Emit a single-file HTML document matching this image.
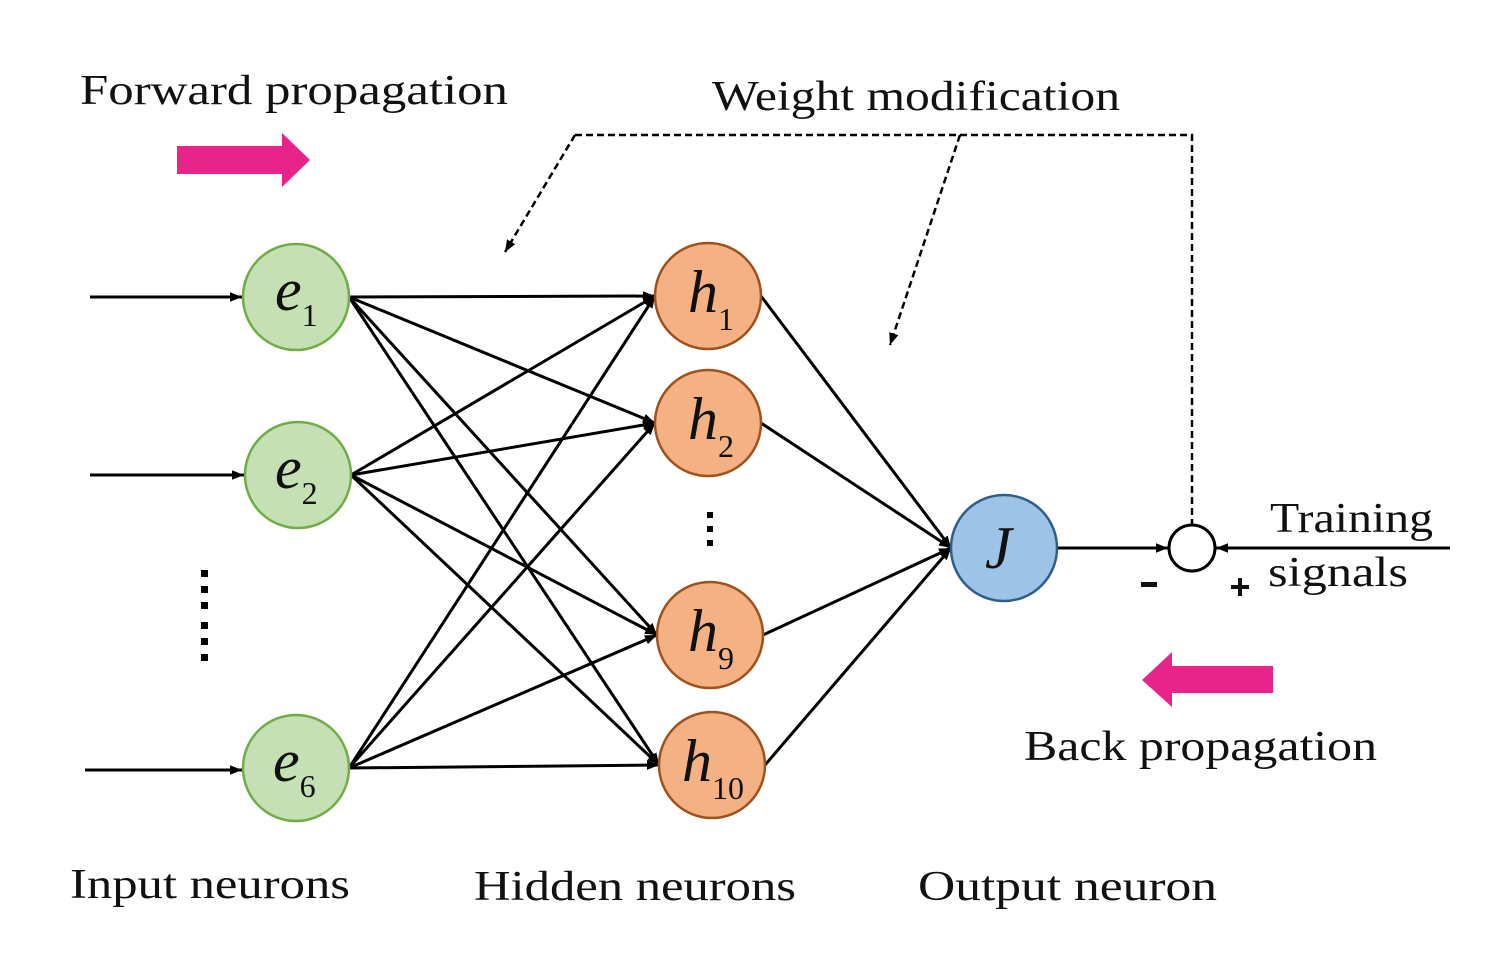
<!DOCTYPE html>
<html><head><meta charset="utf-8"><style>
html,body{margin:0;padding:0;background:#fff;}
svg{display:block;}
text{font-family:"Liberation Serif",serif;fill:#111;}
</style></head><body>
<svg width="1485" height="955" viewBox="0 0 1485 955" xmlns="http://www.w3.org/2000/svg">
<defs>
<marker id="b" viewBox="0 0 10 10" refX="10" refY="5" markerWidth="12" markerHeight="12" orient="auto" markerUnits="userSpaceOnUse"><path d="M0,1 L10,5 L0,9 z" fill="#000"/></marker>
</defs>
<rect width="1485" height="955" fill="#fff"/>
<text x="80" y="104" font-size="42" textLength="428" lengthAdjust="spacingAndGlyphs">Forward propagation</text>
<text x="712" y="110" font-size="42" textLength="408" lengthAdjust="spacingAndGlyphs">Weight modification</text>
<text x="1024" y="760" font-size="42" textLength="353" lengthAdjust="spacingAndGlyphs">Back propagation</text>
<text x="70" y="898" font-size="42" textLength="280" lengthAdjust="spacingAndGlyphs">Input neurons</text>
<text x="474" y="900" font-size="42" textLength="322" lengthAdjust="spacingAndGlyphs">Hidden neurons</text>
<text x="918" y="900" font-size="42" textLength="299" lengthAdjust="spacingAndGlyphs">Output neuron</text>
<text x="1270" y="532" font-size="42" textLength="163" lengthAdjust="spacingAndGlyphs">Training</text>
<text x="1268" y="586" font-size="42" textLength="140" lengthAdjust="spacingAndGlyphs">signals</text>
<rect x="1141" y="582" width="16" height="5" fill="#111"/>
<rect x="1231" y="585" width="18" height="4" fill="#111"/>
<rect x="1238" y="578" width="4" height="18" fill="#111"/>
<path d="M177,146 H282 V133 L310,160 L282,187 V174 H177 Z" fill="#e8248a"/>
<path d="M1273,666 H1172 V652 L1142,680 L1172,707 V693 H1273 Z" fill="#e8248a"/>
<g stroke="#000" stroke-width="2.5" fill="none" stroke-dasharray="7,4">
<path d="M575,135 H1192 V525"/>
<path d="M575,135 L505,252" marker-end="url(#b)"/>
<path d="M960,135 L890,345" marker-end="url(#b)"/>
</g>
<g stroke="#000" stroke-width="3" fill="none">
<path d="M90,297 H242" marker-end="url(#b)"/>
<path d="M90,475 H244" marker-end="url(#b)"/>
<path d="M85,770 H242" marker-end="url(#b)"/>
<path d="M1058,548 H1168" marker-end="url(#b)"/>
<path d="M1450,548 H1216" marker-end="url(#b)"/>
</g>
<g stroke="#000" stroke-width="3" marker-end="url(#b)">
<line x1="349" y1="297" x2="655" y2="296"/><line x1="349" y1="297" x2="655" y2="423"/><line x1="349" y1="297" x2="657" y2="635"/><line x1="349" y1="297" x2="659" y2="765"/>
<line x1="351" y1="475" x2="655" y2="296"/><line x1="351" y1="475" x2="655" y2="423"/><line x1="351" y1="475" x2="657" y2="635"/><line x1="351" y1="475" x2="659" y2="765"/>
<line x1="349" y1="768" x2="655" y2="296"/><line x1="349" y1="768" x2="655" y2="423"/><line x1="349" y1="768" x2="657" y2="635"/><line x1="349" y1="768" x2="659" y2="765"/>
<line x1="761" y1="296" x2="951" y2="548"/><line x1="761" y1="423" x2="951" y2="548"/><line x1="763" y1="635" x2="951" y2="548"/><line x1="765" y1="765" x2="951" y2="548"/>
</g>
<g stroke-width="2.5">
<circle cx="296" cy="297" r="53" fill="#c5e0b4" stroke="#70ad47"/>
<circle cx="298" cy="475" r="53" fill="#c5e0b4" stroke="#70ad47"/>
<circle cx="296" cy="768" r="53" fill="#c5e0b4" stroke="#70ad47"/>
<circle cx="708" cy="296" r="53" fill="#f4b183" stroke="#a0521d"/>
<circle cx="708" cy="423" r="53" fill="#f4b183" stroke="#a0521d"/>
<circle cx="710" cy="635" r="53" fill="#f4b183" stroke="#a0521d"/>
<circle cx="712" cy="765" r="53" fill="#f4b183" stroke="#a0521d"/>
<circle cx="1004" cy="548" r="53" fill="#9dc3e6" stroke="#2e5f8a"/>
<circle cx="1192" cy="548" r="23" fill="#fff" stroke="#000" stroke-width="3"/>
</g>
<g font-size="60" font-style="italic">
<text x="275" y="310">e<tspan font-size="32" font-style="normal" dy="16">1</tspan></text>
<text x="275" y="488">e<tspan font-size="32" font-style="normal" dy="16">2</tspan></text>
<text x="273" y="781">e<tspan font-size="32" font-style="normal" dy="16">6</tspan></text>
<text x="688" y="312">h<tspan font-size="32" font-style="normal" dy="18">1</tspan></text>
<text x="688" y="439">h<tspan font-size="32" font-style="normal" dy="18">2</tspan></text>
<text x="688" y="651">h<tspan font-size="32" font-style="normal" dy="18">9</tspan></text>
<text x="682" y="781">h<tspan font-size="32" font-style="normal" dy="18">10</tspan></text>
<text x="985" y="568">J</text>
</g>
<g fill="#000">
<rect x="201" y="570" width="7" height="7"/><rect x="201" y="586" width="7" height="7"/><rect x="201" y="602" width="7" height="7"/>
<rect x="201" y="622" width="7" height="7"/><rect x="201" y="638" width="7" height="7"/><rect x="201" y="654" width="7" height="7"/>
<rect x="707" y="512" width="6" height="6"/><rect x="707" y="526" width="6" height="6"/><rect x="707" y="540" width="6" height="6"/>
</g>
</svg>
</body></html>
